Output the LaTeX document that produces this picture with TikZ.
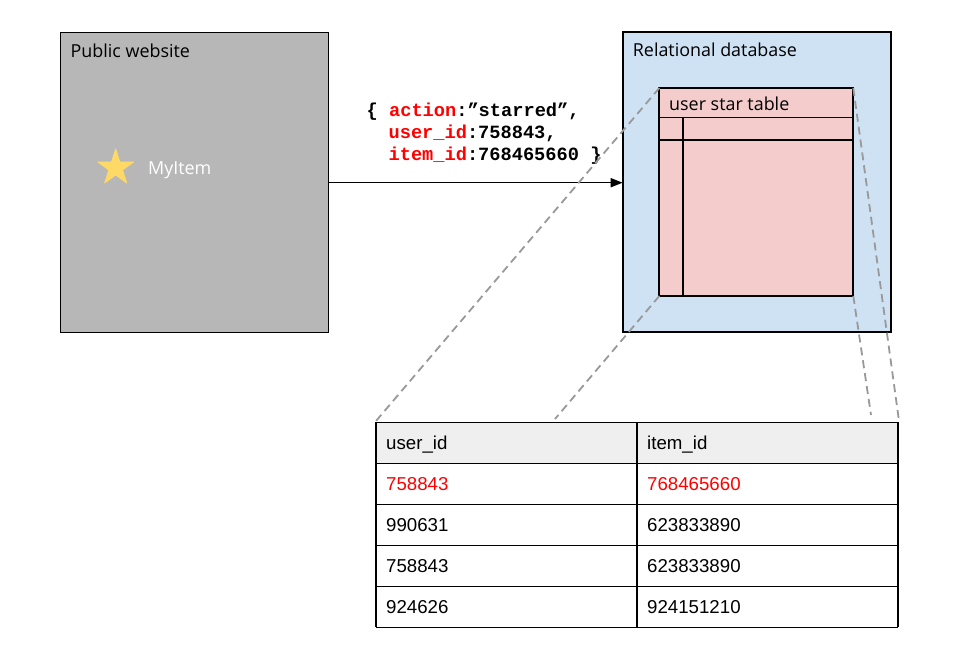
\documentclass[tikz,border=0pt]{standalone}
\usepackage{fontspec}
\setmainfont{Open Sans}
\newfontfamily\tabfont{Liberation Sans}
\newfontfamily\jsonfont{Liberation Mono}
\usetikzlibrary{arrows.meta,calc,shapes.geometric}
\definecolor{webgray}{HTML}{B7B7B7}
\definecolor{dbblue}{HTML}{CFE2F3}
\definecolor{tblpink}{HTML}{F4CCCC}
\definecolor{hdrgray}{HTML}{EFEFEF}
\definecolor{dashgray}{HTML}{999999}
\definecolor{staryellow}{HTML}{FFD966}
\definecolor{keyred}{HTML}{FF0000}
\begin{document}
\begin{tikzpicture}[x=1pt,y=-1pt,
  box/.style={draw=black,line width=1.8pt,rectangle,inner sep=0pt,outer sep=0pt,anchor=north west},
  lbl/.style={anchor=base west,inner sep=0pt,font=\fontsize{17.9}{20}\selectfont},
  jsontxt/.style={anchor=base west,inner sep=0pt,font=\jsonfont\bfseries\fontsize{18.67}{21.5}\selectfont},
  celltxt/.style={anchor=base west,inner sep=0pt,font=\tabfont\fontsize{18.67}{22}\selectfont},
  zoomline/.style={draw=dashgray,line width=1.8pt,dash pattern=on 8pt off 5pt},
  tblline/.style={draw=black,line width=1.3pt},
  inline/.style={draw=black,line width=1.8pt}]
\useasboundingbox (0,0) rectangle (960,660);
\fill[white] (0,0) rectangle (960,660);

% left box
\node[box,fill=webgray,minimum width=268pt,minimum height=300pt] (web) at (60.5,32.5) {};
\node[lbl] (webtitle) at (70.5,57.3) {Public website};
\node[star,star points=5,star point ratio=2.618,minimum size=37.6pt,inner sep=0pt,
      fill=staryellow,draw=staryellow,line width=0.8pt,line join=round] (staricon) at (115.7,167.8) {};
\node[lbl,text=white] (myitem) at (148,175) {MyItem};

% right box
\node[box,fill=dbblue,minimum width=268pt,minimum height=300pt] (db) at (622.7,32.3) {};
\node[lbl] (dbtitle) at (632.7,56.7) {Relational database};

% pink mini table
\node[box,fill=tblpink,minimum width=194pt,minimum height=208pt] (ust) at (659.3,88) {};
\node[lbl] (usttitle) at (669,110.7) {user star table};
\coordinate (h1l) at ($(ust.north west)+(0,29.5)$);
\coordinate (h1r) at ($(ust.north east)+(0,29.5)$);
\coordinate (h2l) at ($(ust.north west)+(0,52.3)$);
\coordinate (h2r) at ($(ust.north east)+(0,52.3)$);
\coordinate (vt) at ($(ust.north west)+(23.7,29.5)$);
\coordinate (vb) at ($(ust.south west)+(23.7,0)$);
\draw[inline] (h1l) -- (h1r);
\draw[inline] (h2l) -- (h2r);
\draw[inline] (vt) -- (vb);

% arrow with JSON
\draw[line width=1.5pt,-{Triangle[length=12pt,width=9pt]}] (web.east |- 0,182.7) -- (db.west |- 0,182.7);
\node[jsontxt] (json1) at (366.5,117) {\{ \textcolor{keyred}{action}:”starred”,};
\node[jsontxt] (json2) at (388.4,138.5) {\textcolor{keyred}{user\_id}:758843,};
\node[jsontxt] (json3) at (388.4,160.5) {\textcolor{keyred}{item\_id}:768465660 \}};

% big table
\node[box,draw=none,fill=hdrgray,minimum width=522pt,minimum height=41pt] (hdr) at (376,422.3) {};
\node[box,draw=none,minimum width=522pt,minimum height=205pt] (tbl) at (376,422.3) {};
\foreach \yy in {422.3,463.3,504.3,545.3,586.3,627.3}{
  \draw[tblline] (376,\yy) -- (898,\yy);
}
\draw[tblline] (tbl.north west) -- (tbl.south west);
\draw[tblline] (tbl.north east) -- (tbl.south east);
\draw[tblline] ($(tbl.north west)!0.5!(tbl.north east)$) coordinate (colt) -- ($(tbl.south west)!0.5!(tbl.south east)$) coordinate (colb);

\node[celltxt] (c11) at (386,449) {user\_id};
\node[celltxt] (c12) at (647,449) {item\_id};
\node[celltxt,text=keyred] (c21) at (386,490) {758843};
\node[celltxt,text=keyred] (c22) at (647,490) {768465660};
\node[celltxt] (c31) at (386,531) {990631};
\node[celltxt] (c32) at (647,531) {623833890};
\node[celltxt] (c41) at (386,572) {758843};
\node[celltxt] (c42) at (647,572) {623833890};
\node[celltxt] (c51) at (386,613) {924626};
\node[celltxt] (c52) at (647,613) {924151210};

% zoom lines
\coordinate (e1) at (376,421);
\coordinate (e2) at (555,419);
\coordinate (e3) at (871,415);
\coordinate (e4) at (899,421);
\draw[zoomline] (ust.north west) -- (e1);
\draw[zoomline] (ust.south west) -- (e2);
\draw[zoomline] (ust.south east) -- (e3);
\draw[zoomline] (ust.north east) -- (e4);
\end{tikzpicture}
\end{document}
